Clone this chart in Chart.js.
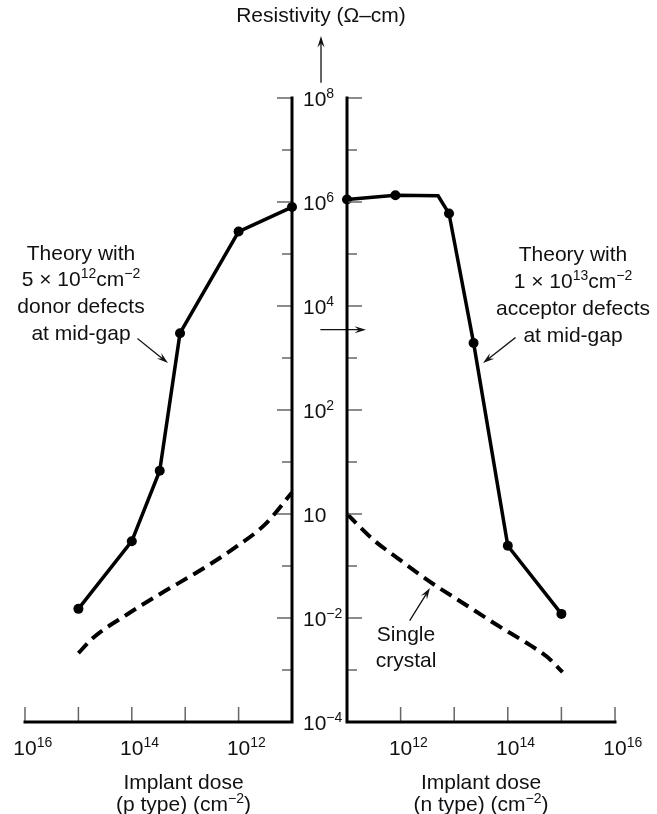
<!DOCTYPE html>
<html>
<head>
<meta charset="utf-8">
<script src="https://cdn.jsdelivr.net/npm/chart.js@4.4.0/dist/chart.umd.min.js"></script>
<style>
  body { margin: 0; background: #fff; }
  .wrap { position: relative; width: 657px; height: 814px; }
  .wrap canvas { position: absolute; left: 0; top: 0; }
</style>
</head>
<body>
<div class="wrap">
  <canvas id="left" width="657" height="814"></canvas>
  <canvas id="right" width="657" height="814"></canvas>
</div>
<script>
// p type (left panel), dose axis runs right to left
const pDose = [1e15, 1e14, 3e13, 1.25e13, 1e12, 1e11];
const pRho = [0.015, 0.3, 6.8, 3000, 2.7e5, 8e5];
const pCrystalDose = [1e15, 5.4e14, 1.23e14, 2.95e13, 5.2e12, 1.07e12, 3.2e11, 1e11];
const pCrystalRho = [0.0021, 0.0041, 0.0117, 0.029, 0.083, 0.24, 0.63, 2.6];

// n type (right panel)
const nDose = [1e11, 8e11, 5e12, 8e12, 2.3e13, 1e14, 1e15];
const nRho = [1.12e6, 1.35e6, 1.32e6, 6e5, 1950, 0.245, 0.012];
const nMarker = [5, 5, 0, 5, 5, 5, 5];
const nCrystalDose = [1e11, 3.1e11, 8.5e11, 3.5e12, 1.5e13, 6.2e13, 2.6e14, 5.4e14, 1.05e15];
const nCrystalRho = [1.0, 0.32, 0.145, 0.05, 0.019, 0.0074, 0.003, 0.0018, 0.00091];

const xTicks = [1e11, 1e12, 1e13, 1e14, 1e15, 1e16];
const xTickLabels = ['', '10^{12}', '', '10^{14}', '', '10^{16}'];
const yTicks = [1e-4, 1e-3, 1e-2, 1e-1, 1, 10, 100, 1e3, 1e4, 1e5, 1e6, 1e7, 1e8];
const yTickLabels = ['10^{\u22124}', '', '10^{\u22122}', '', '10', '', '10^{2}', '', '10^{4}', '', '10^{6}', '', '10^{8}'];

const FONT = '"Liberation Sans", Arial, Helvetica, sans-serif';
const FS = 21;

// split "a^{b}c" into plain and superscript pieces
function parseRich(s) {
  const parts = [];
  const re = /\^\{([^}]*)\}/g;
  let last = 0, m;
  while ((m = re.exec(s))) {
    if (m.index > last) parts.push({ t: s.slice(last, m.index), sup: false });
    parts.push({ t: m[1], sup: true });
    last = re.lastIndex;
  }
  if (last < s.length) parts.push({ t: s.slice(last), sup: false });
  return parts;
}

// y is the vertical centre of the plain text
function drawRich(ctx, s, x, y, align, size) {
  size = size || FS;
  const supSize = Math.round(size * 0.66);
  const parts = parseRich(s);
  let total = 0;
  parts.forEach(p => {
    ctx.font = (p.sup ? supSize : size) + 'px ' + FONT;
    p.w = ctx.measureText(p.t).width;
    total += p.w;
  });
  let cx = x;
  if (align === 'center') cx = x - total / 2;
  else if (align === 'right') cx = x - total;
  else if (align === 'base') cx = x - parts[0].w / 2;
  const baseline = y + size * 0.36;
  ctx.fillStyle = '#111';
  ctx.textBaseline = 'alphabetic';
  ctx.textAlign = 'left';
  parts.forEach(p => {
    ctx.font = (p.sup ? supSize : size) + 'px ' + FONT;
    ctx.fillText(p.t, cx, p.sup ? baseline - size * 0.38 : baseline);
    cx += p.w;
  });
}

function arrow(ctx, x1, y1, x2, y2, head) {
  head = head || 12;
  const a = Math.atan2(y2 - y1, x2 - x1);
  ctx.save();
  ctx.strokeStyle = '#111';
  ctx.fillStyle = '#111';
  ctx.lineWidth = 1.3;
  ctx.beginPath();
  ctx.moveTo(x1, y1);
  ctx.lineTo(x2 - Math.cos(a) * head * 0.6, y2 - Math.sin(a) * head * 0.6);
  ctx.stroke();
  ctx.beginPath();
  ctx.moveTo(x2, y2);
  ctx.lineTo(x2 - head * Math.cos(a - 0.3), y2 - head * Math.sin(a - 0.3));
  ctx.lineTo(x2 - head * 0.6 * Math.cos(a), y2 - head * 0.6 * Math.sin(a));
  ctx.lineTo(x2 - head * Math.cos(a + 0.3), y2 - head * Math.sin(a + 0.3));
  ctx.closePath();
  ctx.fill();
  ctx.restore();
}

// axes, ticks and labels drawn from the chart's own scales
function axesPlugin(side) {
  return {
    id: 'axes_' + side,
    afterDatasetsDraw(chart) {
      const ctx = chart.ctx;
      const xs = chart.scales.x, ys = chart.scales.y;
      const area = chart.chartArea;
      const axisX = side === 'left' ? area.right : area.left;
      const dir = side === 'left' ? -1 : 1;
      ctx.save();

      // tick marks
      ctx.strokeStyle = '#666';
      ctx.lineWidth = 1.5;
      xTicks.forEach(v => {
        if (v === 1e11) return;
        const px = xs.getPixelForValue(v);
        ctx.beginPath();
        ctx.moveTo(px, area.bottom);
        ctx.lineTo(px, area.bottom - 15);
        ctx.stroke();
      });
      yTicks.forEach((v, i) => {
        if (v === 1e-4) return;
        const py = ys.getPixelForValue(v);
        const len = yTickLabels[i] ? 15 : 10;
        ctx.beginPath();
        ctx.moveTo(axisX, py);
        ctx.lineTo(axisX + dir * len, py);
        ctx.stroke();
      });

      // axis lines
      ctx.strokeStyle = '#000';
      ctx.lineWidth = 3;
      ctx.lineCap = 'square';
      ctx.beginPath();
      ctx.moveTo(area.left, area.bottom);
      ctx.lineTo(area.right, area.bottom);
      ctx.moveTo(axisX, area.bottom);
      ctx.lineTo(axisX, ys.getPixelForValue(1e8));
      ctx.stroke();

      // x tick labels
      xTicks.forEach((v, i) => {
        if (!xTickLabels[i]) return;
        drawRich(ctx, xTickLabels[i], xs.getPixelForValue(v), area.bottom + 25, 'base');
      });

      const mid = (area.left + area.right) / 2;
      if (side === 'left') {
        drawRich(ctx, 'Implant dose', mid + 25, area.bottom + 59, 'center');
        drawRich(ctx, '(p type) (cm^{\u22122})', mid + 25, area.bottom + 81, 'center');

        // shared y labels between the two panels
        yTicks.forEach((v, i) => {
          if (!yTickLabels[i]) return;
          drawRich(ctx, yTickLabels[i], axisX + 11, ys.getPixelForValue(v), 'left');
        });
        drawRich(ctx, 'Resistivity (\u03A9\u2013cm)', axisX + 29, 14, 'center');
        arrow(ctx, axisX + 29, 82, axisX + 29, 36);
        arrow(ctx, axisX + 29, ys.getPixelForValue(3500), axisX + 74, ys.getPixelForValue(3500));

        ['Theory with', '5 \u00D7 10^{12}cm^{\u22122}', 'donor defects', 'at mid-gap']
          .forEach((t, i) => drawRich(ctx, t, 81, 252 + i * 26.7, 'center'));
        arrow(ctx, 138, 339, 168, 363);
      } else {
        drawRich(ctx, 'Implant dose', mid, area.bottom + 59, 'center');
        drawRich(ctx, '(n type) (cm^{\u22122})', mid, area.bottom + 81, 'center');

        ['Theory with', '1 \u00D7 10^{13}cm^{\u22122}', 'acceptor defects', 'at mid-gap']
          .forEach((t, i) => drawRich(ctx, t, 573, 253 + i * 27, 'center'));
        arrow(ctx, 515, 338, 483, 363);

        drawRich(ctx, 'Single', 406, 633, 'center');
        drawRich(ctx, 'crystal', 406, 659, 'center');
        arrow(ctx, 410, 620, 430, 588);
      }
      ctx.restore();
    }
  };
}

function pts(xv, yv) {
  return xv.map((x, i) => ({ x: x, y: yv[i] }));
}

function makeChart(id, side, datasets, padding) {
  return new Chart(document.getElementById(id), {
    type: 'line',
    data: { datasets: datasets },
    options: {
      responsive: false,
      animation: false,
      layout: { padding: padding },
      plugins: { legend: { display: false }, tooltip: { enabled: false } },
      scales: {
        x: { type: 'logarithmic', min: 1e11, max: 1e16, reverse: side === 'left', display: false },
        y: { type: 'logarithmic', min: 1e-4, max: 1e8, display: false }
      }
    },
    plugins: [axesPlugin(side)]
  });
}

const solid = { borderColor: '#000', backgroundColor: '#000', borderWidth: 3.5, pointBackgroundColor: '#000', pointBorderWidth: 0, tension: 0, clip: false };
const dashed = { borderColor: '#000', borderWidth: 4, borderDash: [13, 7], pointRadius: 0, cubicInterpolationMode: 'monotone', clip: false };

makeChart('left', 'left', [
  Object.assign({ data: pts(pDose, pRho), pointRadius: 5 }, solid),
  Object.assign({ data: pts(pCrystalDose, pCrystalRho) }, dashed)
], { left: 25, right: 657 - 292, top: 98, bottom: 814 - 722 });

makeChart('right', 'right', [
  Object.assign({ data: pts(nDose, nRho), pointRadius: nMarker }, solid),
  Object.assign({ data: pts(nCrystalDose, nCrystalRho) }, dashed)
], { left: 347, right: 657 - 615, top: 98, bottom: 814 - 722 });
</script>
</body>
</html>
